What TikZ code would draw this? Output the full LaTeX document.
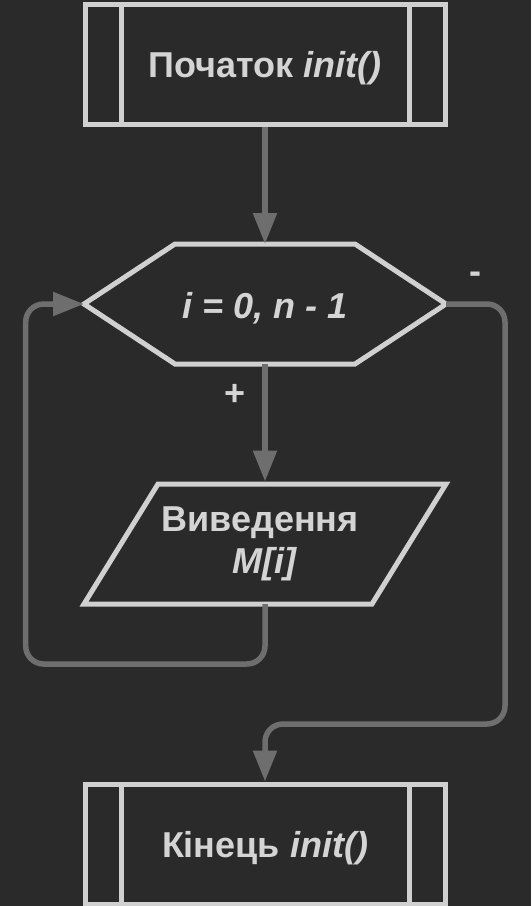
\documentclass[tikz,border=0pt]{standalone}
\usepackage{fontspec}
\setmainfont{Liberation Sans}
\usetikzlibrary{arrows.meta}
\definecolor{canvas}{HTML}{2A2A2A}
\definecolor{shapeline}{HTML}{D0D0D0}
\definecolor{labeltext}{HTML}{D4D4D4}
\definecolor{flowline}{HTML}{6E6E6E}
\newcommand{\tallstrut}{\rule[-6pt]{0pt}{40pt}}

\begin{document}
\begin{tikzpicture}[x=1pt, y=-1pt,
                font=\fontsize{36}{42}\selectfont\bfseries,
                caption/.style={text=labeltext, execute at begin node=\tallstrut, execute at end node=\tallstrut},
                sign/.style={text=labeltext},
                subproc/.style={caption, draw=shapeline, line width=5pt, minimum width=360pt, minimum height=120pt,
                  path picture={\draw[shapeline, line width=5pt]
                    ([xshift=36pt]path picture bounding box.north west) -- ([xshift=36pt]path picture bounding box.south west)
                    ([xshift=-36pt]path picture bounding box.north east) -- ([xshift=-36pt]path picture bounding box.south east);}},
                hollow/.style={caption, minimum width=362pt, minimum height=120pt, outer sep=0pt},
                outline/.style={draw=shapeline, line width=5pt, line join=miter},
                flow/.style={draw=flowline, line width=5.5pt, rounded corners=18pt, -{Triangle[width=23pt, length=31pt]}}
                ]
                \fill[canvas] (0,0) rectangle (531,906);
                \useasboundingbox (0,0) rectangle (531,906);

                \node[subproc] (begin) at (265,64) {Початок \textit{init()}};
                \node[hollow] (loop) at (265,304) {\textit{i = 0, n - 1}};
                \draw[outline] (loop.west) -- ([xshift=91pt]loop.north west) -- ([xshift=-91pt]loop.north east)
                  -- (loop.east) -- ([xshift=-91pt]loop.south east) -- ([xshift=91pt]loop.south west) -- cycle;
                \node[hollow, align=center] (show) at (265,544) {Виведення\kern10pt\\\textit{M[i]}};
                \draw[outline] ([xshift=74pt]show.north west) -- (show.north east)
                  -- ([xshift=-74pt]show.south east) -- (show.south west) -- cycle;
                \node[subproc] (end) at (265,844) {Кінець \textit{init()}};

                \coordinate (leftbend) at (25.7,664);
                \coordinate (rightbend) at (505,724);
                \draw[flow] (begin.south) -- (loop.north);
                \draw[flow, shorten >=2.5pt] (loop.south) -- node[sign, pos=0.26, xshift=-30pt] {+} (show.north);
                \draw[flow] (show.south) |- (leftbend) |- (loop.west);
                \draw[flow] (loop.east) -| node[sign, pos=0.254, yshift=26pt] {-} (rightbend) -| (end.north);
              \end{tikzpicture}
\end{document}
